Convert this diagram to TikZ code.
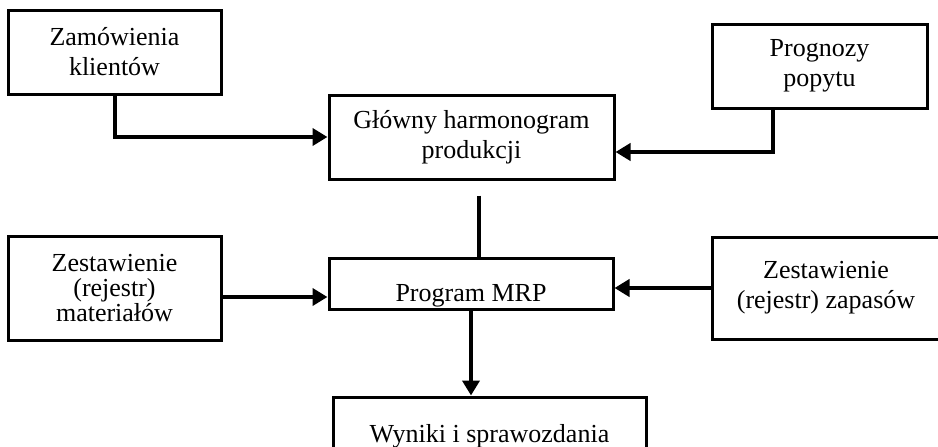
\documentclass[tikz,border=0pt]{standalone}
\usepackage{fontspec}
\setmainfont{Liberation Serif}
\usetikzlibrary{arrows.meta,calc}

\tikzset{
  blok/.style={draw, line width=3pt, align=center, inner sep=0pt, font=\fontsize{26}{30}\selectfont},
  strzalka/.style={line width=4pt, -{Triangle[length=15pt,width=17pt]}},
  nisko/.style={text height=40pt, text depth=4pt}
}

\begin{document}
\begin{tikzpicture}[x=1pt,y=-1pt]
\useasboundingbox (0,0) rectangle (938,447);

% Bloki gorne
\node[blok, minimum width=213pt, minimum height=84pt] (zam) at (114.5,52) {Zamówienia\\klientów};
\node[blok, minimum width=285pt, minimum height=84pt] (ghp) at (471.5,137) {Główny harmonogram\\produkcji};
\node[blok, minimum width=215pt, minimum height=84pt] (prog) at (819.5,66) {Prognozy\\popytu};

% Bloki srodkowe
\node[blok, nisko, minimum width=284pt, minimum height=51pt] (mrp) at (471,283.5) {Program MRP};
\node[blok, font=\fontsize{26}{25}\selectfont, minimum width=213pt, minimum height=104pt] (mat) at (114.5,288) {Zestawienie\\(rejestr)\\materiałów};
\node[blok, minimum width=228pt, minimum height=102pt] (zap) at (826,288) {Zestawienie\\(rejestr) zapasów};

% Blok dolny
\node[blok, nisko, minimum width=313pt, minimum height=55pt] (wyn) at (489.5,424.5) {Wyniki i sprawozdania};

\coordinate (progout) at ([xshift=-47pt]prog.south);
\coordinate (ghpin) at ([yshift=-15pt]ghp.east);
\coordinate (ghpout) at ([xshift=7pt,yshift=-15pt]ghp.south);
\coordinate (matout) at ([yshift=-9pt]mat.east);

\draw[strzalka] (zam.south) |- (ghp.west);
\draw[strzalka] (progout) |- (ghpin);
\draw[line width=4pt] (ghpout) -- (ghpout |- mrp.north); % bez grotu
\draw[strzalka] (matout) -- (matout -| mrp.west);
\draw[strzalka] (zap.west) -- (zap.west -| mrp.east);
\draw[strzalka] (mrp.south) -- (mrp.south |- wyn.north);
\end{tikzpicture}
\end{document}
